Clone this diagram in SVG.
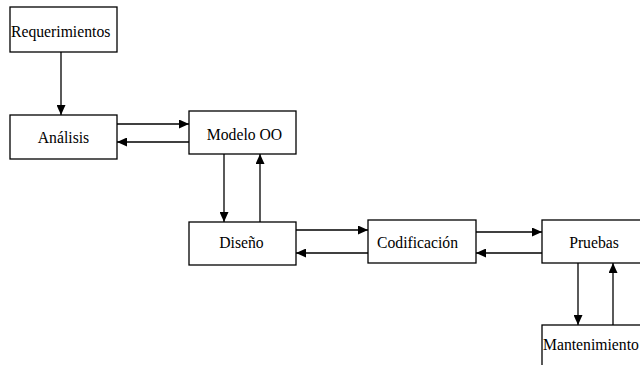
<svg xmlns="http://www.w3.org/2000/svg" width="640" height="365" viewBox="0 0 640 365">
  <style>
    .box { fill: #ffffff; stroke: #000000; stroke-width: 1.3; }
    .lbl { font-family: "Liberation Serif", "Times New Roman", serif; font-size: 15.7px; fill: #000000; }
    .mid { text-anchor: middle; }
    .edge { stroke: #000000; stroke-width: 1.3; fill: none; marker-end: url(#arrow); }
  </style>
  <defs>
    <marker id="arrow" markerUnits="userSpaceOnUse" markerWidth="10" markerHeight="9" refX="10" refY="4.5" orient="auto">
      <path d="M0,0 L10,4.5 L0,9 Z" fill="#000000"/>
    </marker>
  </defs>
  <rect width="640" height="365" fill="#ffffff"/>

  <g id="requerimientos">
    <rect class="box" x="10" y="7" width="107" height="45"/>
    <text class="lbl" x="11" y="37">Requerimientos</text>
  </g>
  <g id="analisis">
    <rect class="box" x="10" y="115" width="107" height="44"/>
    <text class="lbl mid" x="63.5" y="143">Análisis</text>
  </g>
  <g id="modelo-oo">
    <rect class="box" x="189" y="111" width="107" height="43"/>
    <text class="lbl mid" x="244.5" y="140">Modelo OO</text>
  </g>
  <g id="diseno">
    <rect class="box" x="189" y="222" width="107" height="43"/>
    <text class="lbl mid" x="241.5" y="248">Diseño</text>
  </g>
  <g id="codificacion">
    <rect class="box" x="368" y="220" width="108" height="43"/>
    <text class="lbl mid" x="417.5" y="248">Codificación</text>
  </g>
  <g id="pruebas">
    <rect class="box" x="542" y="220" width="110" height="43"/>
    <text class="lbl mid" x="594" y="248">Pruebas</text>
  </g>
  <g id="mantenimiento">
    <rect class="box" x="542" y="325" width="110" height="50"/>
    <text class="lbl" x="543" y="350">Mantenimiento</text>
  </g>

  <g id="connectors">
    <line class="edge" x1="61" y1="52" x2="61" y2="115"/>
    <line class="edge" x1="117" y1="124" x2="189" y2="124"/>
    <line class="edge" x1="189" y1="142" x2="117" y2="142"/>
    <line class="edge" x1="224" y1="154" x2="224" y2="222"/>
    <line class="edge" x1="260" y1="222" x2="260" y2="154"/>
    <line class="edge" x1="296" y1="230" x2="368" y2="230"/>
    <line class="edge" x1="368" y1="253" x2="296" y2="253"/>
    <line class="edge" x1="476" y1="232" x2="542" y2="232"/>
    <line class="edge" x1="542" y1="253" x2="476" y2="253"/>
    <line class="edge" x1="578" y1="263" x2="578" y2="325"/>
    <line class="edge" x1="613" y1="325" x2="613" y2="263"/>
  </g>
</svg>
